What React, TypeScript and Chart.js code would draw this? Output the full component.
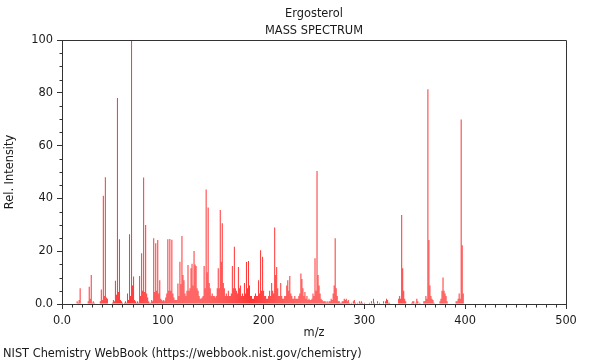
import React, { useEffect, useRef } from 'react';
import { Chart, registerables } from 'chart.js';

Chart.register(...registerables);

const TITLE = 'Ergosterol';
const SUBTITLE = 'MASS SPECTRUM';
const X_LABEL = 'm/z';
const Y_LABEL = 'Rel. Intensity';
const FOOTER = 'NIST Chemistry WebBook (https://webbook.nist.gov/chemistry)';

// m/z of each peak
const mz = [
  15, 16, 17, 18, 26, 27, 28, 29, 30, 31,
  32, 38, 39, 40, 41, 42, 43, 44, 45, 50,
  51, 52, 53, 54, 55, 56, 57, 58, 59, 60,
  62, 63, 64, 65, 66, 67, 68, 69, 70, 71,
  72, 73, 74, 75, 76, 77, 78, 79, 80, 81,
  82, 83, 84, 85, 86, 87, 88, 89, 90, 91,
  92, 93, 94, 95, 96, 97, 98, 99, 100, 101,
  102, 103, 104, 105, 106, 107, 108, 109, 110, 111,
  112, 113, 114, 115, 116, 117, 118, 119, 120, 121,
  122, 123, 124, 125, 126, 127, 128, 129, 130, 131,
  132, 133, 134, 135, 136, 137, 138, 139, 140, 141,
  142, 143, 144, 145, 146, 147, 148, 149, 150, 151,
  152, 153, 154, 155, 156, 157, 158, 159, 160, 161,
  162, 163, 164, 165, 166, 167, 168, 169, 170, 171,
  172, 173, 174, 175, 176, 177, 178, 179, 180, 181,
  182, 183, 184, 185, 186, 187, 188, 189, 190, 191,
  192, 193, 194, 195, 196, 197, 198, 199, 200, 201,
  202, 203, 204, 205, 206, 207, 208, 209, 210, 211,
  212, 213, 214, 215, 216, 217, 218, 219, 220, 221,
  222, 223, 224, 225, 226, 227, 228, 229, 230, 231,
  232, 233, 234, 235, 236, 237, 238, 239, 240, 241,
  242, 243, 244, 245, 246, 247, 248, 249, 250, 251,
  252, 253, 254, 255, 256, 257, 258, 259, 260, 261,
  262, 263, 264, 265, 266, 267, 268, 269, 270, 271,
  272, 273, 274, 275, 276, 277, 278, 279, 280, 281,
  282, 283, 284, 285, 287, 289, 290, 291, 293, 295,
  296, 297, 298, 300, 305, 307, 309, 310, 313, 315,
  319, 321, 322, 323, 324, 325, 334, 335, 336, 337,
  338, 339, 340, 341, 347, 348, 349, 351, 352, 353,
  355, 359, 360, 361, 362, 363, 364, 365, 366, 367,
  368, 369, 375, 376, 377, 378, 379, 380, 381, 382,
  391, 392, 393, 394, 395, 396, 397, 398,
];

// relative intensity of each peak (same order as mz)
const intensity = [
  1, 0.5, 1.5, 6, 1, 6.5, 2, 11, 0.5, 1,
  0.5, 1, 5.5, 1.5, 41, 3, 48, 2.5, 2, 0.5,
  1.5, 1, 8.8, 3.5, 78, 4.5, 24.5, 1.5, 1, 0.5,
  0.5, 1, 0.5, 4, 1.5, 26.4, 3, 100, 7, 10.4,
  1.5, 1, 0.5, 1, 0.5, 10.6, 3, 19.2, 5, 47.9,
  4.5, 29.9, 4, 2.5, 1, 0.5, 0.5, 1.5, 1, 24.9,
  4.5, 23, 5, 24.2, 4, 9, 2, 1.5, 1, 1.5,
  1, 2.5, 4, 24.5, 5, 24.6, 5, 24.3, 4, 2.5,
  1.5, 1.5, 1.5, 7.8, 3, 16, 7.6, 25.8, 11, 9,
  4, 3, 5, 14.8, 5, 6, 13.5, 15.2, 7, 20.1,
  15, 14.4, 6, 5, 3, 2, 2, 2.5, 3, 14.4,
  6, 43.4, 12, 36.6, 8, 6, 3, 4, 3, 3,
  2.5, 3, 6, 13.5, 6, 35.6, 16, 30.6, 8, 6,
  3, 4, 3, 5, 3, 3, 4, 14.4, 6, 21.7,
  6, 5, 4, 14, 6, 7, 3, 4, 3, 8,
  4, 15.9, 6, 16.3, 7, 3, 3, 2, 2, 3,
  4, 3, 3, 9, 4, 20.4, 5, 17.9, 5, 3,
  3, 2, 2, 3, 5, 3, 8, 5, 4, 29,
  11, 14, 6, 3, 3, 8, 3, 2, 2, 3,
  3, 7, 9, 5, 10.6, 4, 3, 2, 2, 3,
  2, 2, 2, 3, 4, 11.6, 9.5, 6, 3, 4.5,
  2, 3, 1.5, 2, 1.5, 1.5, 2, 4, 3, 17.3,
  5, 50.4, 11, 7, 4, 2, 1.5, 1, 1, 1,
  0.5, 1, 0.5, 1, 1, 2, 1.5, 4, 7, 24.9,
  6, 3, 1, 1, 0.5, 0.5, 1, 1, 2, 1.5,
  2, 1, 1.5, 0.5, 0.5, 1, 1.5, 0.5, 0.5, 1,
  0.5, 1, 0.5, 0.5, 0.5, 1, 2, 0.5, 1, 0.5,
  1, 1, 2, 1.5, 0.5, 0.5, 2, 3, 2, 33.7,
  13.5, 5, 2, 1, 0.5, 1, 1, 0.5, 2, 1,
  0.5, 1, 1, 3, 2, 81.3, 24.2, 7, 3, 2,
  1.5, 0.5, 1, 2, 5, 10, 5, 4, 3, 1,
  1, 1, 2, 4, 2, 69.9, 22.3, 4,
];

const X_MIN = 0;
const X_MAX = 500;
const X_MAJOR = 100;
const X_MINOR = 10;
const Y_MIN = 0;
const Y_MAX = 100;
const Y_MAJOR = 20;
const Y_MINOR = 5;

const FONT_FAMILY = "'DejaVu Sans', sans-serif";
const FONT_SIZE = 11.4;
const TEXT_COLOR = '#1a1a1a';
const AXIS_COLOR = '#333333';
const BAR_COLOR = '#ff3535';

const fmt = (v: number) => (v === 0 ? '0.0' : String(v));

const framePlugin = {
  id: 'frameAndMinorTicks',
  afterDraw(chart: any) {
    const { ctx, chartArea: a, scales } = chart;
    const xs = scales.x;
    const ys = scales.y;
    ctx.save();
    ctx.strokeStyle = AXIS_COLOR;
    ctx.lineWidth = 1;
    const L = Math.round(a.left) + 0.5;
    const R = Math.round(a.right) + 0.5;
    const T = Math.round(a.top) + 0.5;
    const B = Math.round(a.bottom) + 0.5;
    ctx.beginPath();
    ctx.moveTo(L, T);
    ctx.lineTo(R, T);
    ctx.lineTo(R, B);
    ctx.stroke();
    ctx.beginPath();
    xs.ticks.forEach((t: any) => {
      if (t.value % X_MAJOR !== 0) {
        const px = Math.round(xs.getPixelForValue(t.value)) + 0.5;
        ctx.moveTo(px, B);
        ctx.lineTo(px, B + 3);
      }
    });
    ys.ticks.forEach((t: any) => {
      if (t.value % Y_MAJOR !== 0) {
        const py = Math.round(ys.getPixelForValue(t.value)) + 0.5;
        ctx.moveTo(L, py);
        ctx.lineTo(L - 3, py);
      }
    });
    ctx.stroke();
    ctx.restore();
  },
};

export default function App() {
  const ref = useRef<HTMLCanvasElement>(null);

  useEffect(() => {
    const canvas = ref.current;
    if (!canvas) return;
    const font = { family: FONT_FAMILY, size: FONT_SIZE, weight: 'normal' as const, lineHeight: 1.2 };
    const chart = new Chart(canvas, {
      type: 'bar',
      data: {
        datasets: [
          {
            data: mz.map((m, i) => ({ x: m, y: intensity[i] })),
            backgroundColor: BAR_COLOR,
            borderWidth: 0,
            inflateAmount: 0,
            barPercentage: 1,
            categoryPercentage: 1,
          },
        ],
      },
      options: {
        responsive: false,
        animation: false,
        events: [],
        layout: { padding: { left: 0, right: 34, top: 0, bottom: 20 } },
        plugins: {
          legend: { display: false },
          tooltip: { enabled: false },
          title: {
            display: true,
            text: TITLE,
            fullSize: false,
            color: TEXT_COLOR,
            font,
            padding: { top: 7.16, bottom: 0 },
          },
          subtitle: {
            display: true,
            text: SUBTITLE,
            fullSize: false,
            color: TEXT_COLOR,
            font,
            padding: { top: 3.32, bottom: 2.16 },
          },
        },
        scales: {
          x: {
            type: 'linear',
            min: X_MIN,
            max: X_MAX,
            offset: false,
            grid: {
              offset: false,
              drawOnChartArea: false,
              tickLength: 5,
              tickColor: (c: any) =>
                c.tick && c.tick.value % X_MAJOR === 0 ? AXIS_COLOR : 'rgba(0,0,0,0)',
            },
            border: { color: AXIS_COLOR, width: 1 },
            ticks: {
              stepSize: X_MINOR,
              autoSkip: false,
              maxRotation: 0,
              padding: 5,
              color: TEXT_COLOR,
              font,
              callback: (v: any) => (Number(v) % X_MAJOR === 0 ? fmt(Number(v)) : ''),
            },
            title: { display: true, text: X_LABEL, color: TEXT_COLOR, font, padding: 0 },
            afterFit: (s: any) => {
              s.height = 36;
            },
          },
          y: {
            type: 'linear',
            min: Y_MIN,
            max: Y_MAX,
            grid: {
              drawOnChartArea: false,
              tickLength: 5,
              tickColor: (c: any) =>
                c.tick && c.tick.value % Y_MAJOR === 0 ? AXIS_COLOR : 'rgba(0,0,0,0)',
            },
            border: { color: AXIS_COLOR, width: 1 },
            ticks: {
              stepSize: Y_MINOR,
              autoSkip: false,
              padding: 4,
              color: TEXT_COLOR,
              font,
              callback: (v: any) => (Number(v) % Y_MAJOR === 0 ? fmt(Number(v)) : ''),
            },
            title: {
              display: true,
              text: Y_LABEL,
              color: TEXT_COLOR,
              font,
              padding: { top: 3.16, bottom: 0 },
            },
            afterFit: (s: any) => {
              s.width = 62;
            },
          },
        },
      },
      plugins: [framePlugin],
    } as any);
    return () => chart.destroy();
  }, []);

  return (
    <div style={{ position: 'absolute', left: 0, top: 0, width: 600, height: 360, background: '#fff' }}>
      <canvas ref={ref} width={600} height={360} style={{ display: 'block' }} />
      <div
        style={{
          position: 'absolute',
          left: 3,
          top: 346,
          fontFamily: FONT_FAMILY,
          fontSize: FONT_SIZE,
          lineHeight: '14px',
          color: TEXT_COLOR,
          whiteSpace: 'nowrap',
        }}
      >
        {FOOTER}
      </div>
    </div>
  );
}
